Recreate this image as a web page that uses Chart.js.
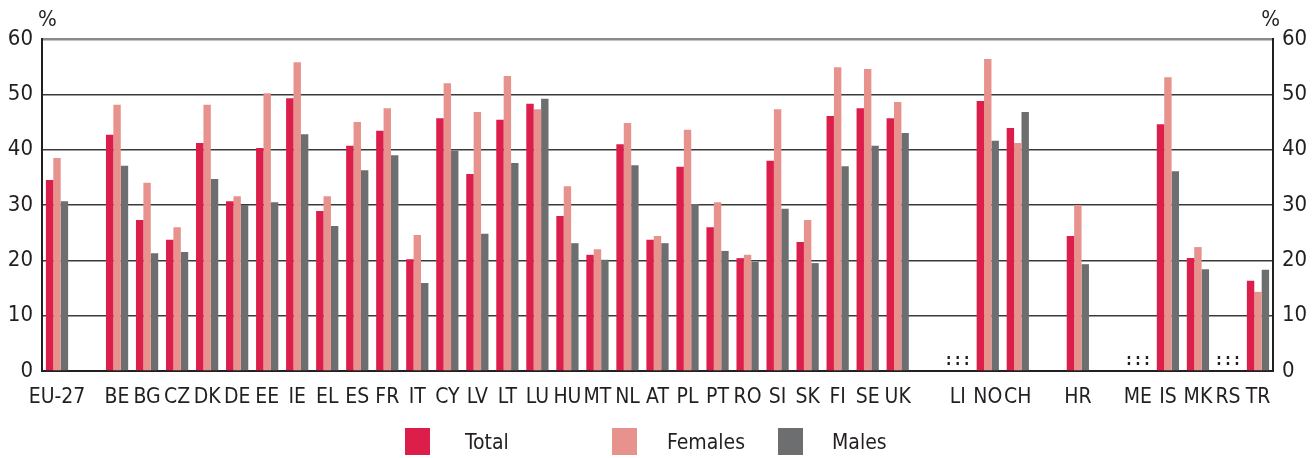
<!DOCTYPE html>
<html>
<head>
<meta charset="utf-8">
<script src="https://cdn.jsdelivr.net/npm/chart.js@4"></script>
<style>
  html, body { margin: 0; padding: 0; background: #fff; }
  #wrap { position: relative; width: 1316px; height: 458px; }
  #legend { position: absolute; top: 425px; left: 0; width: 1316px; height: 33px; font-family: "Liberation Sans Narrow", "DejaVu Sans Condensed", "Roboto", sans-serif; font-size: 21px; color: #231f20; }
  .item { position: absolute; top: 3px; }
  .box { position: absolute; top: 0; width: 25px; height: 27px; }
  .lbl { position: absolute; top: 2px; white-space: nowrap; }
</style>
</head>
<body>
<div id="wrap">
  <canvas id="chart" width="1316" height="458"></canvas>
  <div id="legend"></div>
</div>
<script>
// Countries (empty strings are spacer slots)
const categories = ['EU-27', '', 'BE', 'BG', 'CZ', 'DK', 'DE', 'EE', 'IE', 'EL', 'ES', 'FR', 'IT', 'CY', 'LV', 'LT', 'LU', 'HU', 'MT', 'NL', 'AT', 'PL', 'PT', 'RO', 'SI', 'SK', 'FI', 'SE', 'UK', '', 'LI', 'NO', 'CH', '', 'HR', '', 'ME', 'IS', 'MK', 'RS', 'TR'];

const totalValues = [34.5, null, 42.7, 27.3, 23.7, 41.2, 30.7, 40.3, 49.3, 28.9, 40.7, 43.4, 20.2, 45.7, 35.6, 45.4, 48.3, 28.0, 21.0, 41.0, 23.7, 36.9, 26.0, 20.4, 38.0, 23.3, 46.1, 47.5, 45.7, null, null, 48.8, 43.9, null, 24.4, null, null, 44.6, 20.4, null, 16.3];
const femaleValues = [38.5, null, 48.1, 34.0, 26.0, 48.1, 31.6, 50.2, 55.8, 31.6, 45.0, 47.5, 24.6, 52.0, 46.8, 53.3, 47.3, 33.4, 22.0, 44.8, 24.4, 43.6, 30.5, 21.0, 47.3, 27.3, 54.9, 54.6, 48.6, null, null, 56.4, 41.2, null, 30.0, null, null, 53.1, 22.4, null, 14.3];
const maleValues = [30.7, null, 37.1, 21.3, 21.5, 34.7, 30.0, 30.5, 42.8, 26.2, 36.3, 39.0, 15.9, 39.8, 24.8, 37.6, 49.2, 23.1, 20.1, 37.2, 23.1, 30.2, 21.7, 19.7, 29.3, 19.5, 37.0, 40.7, 43.0, null, null, 41.6, 46.8, null, 19.3, null, null, 36.1, 18.4, null, 18.3];

// Countries with data not available (shown as ":")
const notAvailable = ['LI', 'ME', 'RS'];

const yTicks = [0, 10, 20, 30, 40, 50, 60];

const seriesNames = ['Total', 'Females', 'Males'];
const seriesColors = ['#dc1f4a', '#e8928d', '#6d6e70'];

const FONT = '"Liberation Sans Narrow", "DejaVu Sans Condensed", "Roboto", sans-serif';
const TEXT = '#231f20';

// Draws "%" units and ":" markers
const extrasPlugin = {
    id: 'extras',
    afterDatasetsDraw(chart) {
        const ctx = chart.ctx;
        const x = chart.scales.x;
        const area = chart.chartArea;
        ctx.save();
        ctx.fillStyle = TEXT;
        ctx.font = '22px ' + FONT;
        ctx.textBaseline = 'alphabetic';
        ctx.textAlign = 'left';
        ctx.fillText('%', area.left - 4, 26);
        ctx.textAlign = 'right';
        ctx.fillText('%', area.right + 7, 26);
        // ":" markers
        ctx.font = 'bold 15px ' + FONT;
        ctx.textAlign = 'center';
        notAvailable.forEach(code => {
            const i = categories.indexOf(code);
            const cx = x.getPixelForValue(i);
            [-9, 0, 9].forEach(dx => ctx.fillText(':', cx + dx, area.bottom - 6));
        });
        ctx.restore();
    }
};

new Chart(document.getElementById('chart'), {
    type: 'bar',
    data: {
        labels: categories,
        datasets: [
            { label: seriesNames[0], data: totalValues, backgroundColor: seriesColors[0], yAxisID: 'y' },
            { label: seriesNames[1], data: femaleValues, backgroundColor: seriesColors[1], yAxisID: 'y' },
            { label: seriesNames[2], data: maleValues, backgroundColor: seriesColors[2], yAxisID: 'y' }
        ]
    },
    options: {
        responsive: false,
        animation: false,
        layout: { padding: { top: 39, left: 0, right: 0, bottom: 0 } },
        datasets: { bar: { categoryPercentage: 0.74, barPercentage: 1.0 } },
        plugins: {
            legend: { display: false },
            tooltip: { enabled: false }
        },
        scales: {
            x: {
                grid: { display: false },
                border: { display: true, color: '#231f20', width: 2 },
                ticks: {
                    autoSkip: false,
                    maxRotation: 0,
                    padding: 6,
                    color: TEXT,
                    font: { family: FONT, size: 21 }
                },
                afterFit(scale) { scale.height = 87; }
            },
            y: {
                position: 'left',
                min: 0,
                max: 60,
                afterBuildTicks(scale) { scale.ticks = yTicks.map(v => ({ value: v })); },
                grid: {
                    color: ctx => ctx.tick && ctx.tick.value === 60 ? '#8a8a8a' : (ctx.tick && ctx.tick.value === 0 ? '#231f20' : '#3a3a3a'),
                    lineWidth: ctx => ctx.tick && ctx.tick.value === 60 ? 2.5 : 1.6,
                    drawTicks: false
                },
                border: { display: true, color: '#231f20', width: 2 },
                ticks: {
                    padding: 9,
                    color: TEXT,
                    font: { family: FONT, size: 22 }
                },
                afterFit(scale) { scale.width = 42; }
            },
            y2: {
                position: 'right',
                min: 0,
                max: 60,
                afterBuildTicks(scale) { scale.ticks = yTicks.map(v => ({ value: v })); },
                grid: { drawOnChartArea: false, drawTicks: false },
                border: { display: true, color: '#231f20', width: 2 },
                ticks: {
                    padding: 9,
                    color: TEXT,
                    font: { family: FONT, size: 22 }
                },
                afterFit(scale) { scale.width = 43; }
            }
        }
    },
    plugins: [extrasPlugin]
});

// HTML legend
const legendPos = [[405, 465], [612, 667], [778, 832]];
const legend = document.getElementById('legend');
seriesNames.forEach((name, i) => {
    const item = document.createElement('div');
    item.className = 'item';
    item.innerHTML = `<div class="box" style="left:${legendPos[i][0]}px;background:${seriesColors[i]}"></div>
        <div class="lbl" style="left:${legendPos[i][1]}px">${name}</div>`;
    legend.appendChild(item);
});
</script>
</body>
</html>
